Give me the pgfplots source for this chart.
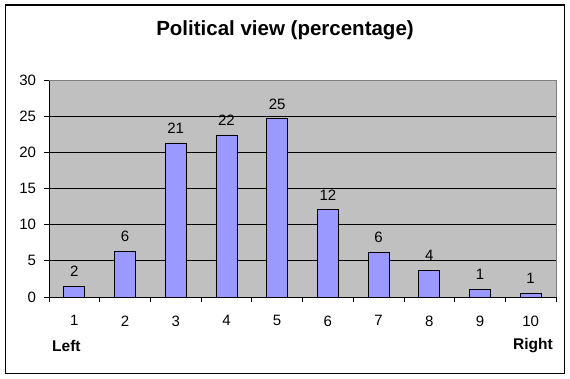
\documentclass[border=0pt]{standalone}
\usepackage{pgfplots}
\pgfplotsset{compat=1.18}
\usepackage{fontspec}
\setmainfont{Liberation Sans}
\definecolor{barfill}{HTML}{9999FF}
\definecolor{plotbg}{HTML}{C0C0C0}
\definecolor{bordergray}{HTML}{808080}
\pgfplotstableread{
x y lab
1 1.5 2
2 6.35 6
3 21.3 21
4 22.4 22
5 24.65 25
6 12.05 12
7 6.2 6
8 3.7 4
9 1.1 1
10 0.55 1
}\datatable
\begin{document}
\begin{tikzpicture}
\begin{axis}[
  name=ax,
  scale only axis,
  width=507pt, height=217pt,
  xmin=0.5, xmax=10.5,
  ymin=0, ymax=30,
  ytick={0,5,...,30},
  xtick={0.5,1.5,...,10.5},
  xticklabels={},
  extra x ticks={1,...,10},
  extra x tick labels={1,2,3,4,5,6,7,8,9,10},
  extra x tick style={major tick length=0pt, grid=none, tick style={draw=none}},
  tick align=outside,
  major tick length=5pt,
  ymajorgrids,
  grid style={black, line width=0.8pt},
  axis line style={black, line width=0.8pt},
  tick style={black, line width=0.8pt},
  xtick pos=bottom, ytick pos=left,
  axis background/.style={fill=plotbg},
  /pgf/number format/assume math mode=true,
  tick label style={font=\fontsize{15}{15}\selectfont},
  xticklabel style={yshift=-15pt},
  yticklabel style={xshift=-4.5pt},
  ybar, bar width=21pt,
  clip=false,
  nodes near coords,
  point meta=explicit symbolic,
  every node near coord/.append style={font=\fontsize{15}{15}\selectfont, inner sep=0pt, yshift=9pt, black},
]
\addplot[fill=barfill, draw=black, line width=0.8pt, bar shift=0pt] table[x=x, y=y, meta=lab] {\datatable};
\draw[bordergray, line width=0.8pt] (rel axis cs:0,1) -- (rel axis cs:1,1) -- (rel axis cs:1,0);
\end{axis}
\node[font=\bfseries\fontsize{20.5}{22}\selectfont] at ([shift={(236pt,267pt)}]ax.south west) {Political view (percentage)};
\node[font=\bfseries\fontsize{15.5}{16}\selectfont, anchor=west, inner sep=0pt] at ([shift={(3pt,-49pt)}]ax.south west) {Left};
\node[font=\bfseries\fontsize{15.5}{16}\selectfont, anchor=east, inner sep=0pt] at ([shift={(504pt,-49pt)}]ax.south west) {Right};
\draw[black, line width=1.5pt] ([shift={(-43.5pt,-76.5pt)}]ax.south west) rectangle ([shift={(515.5pt,292pt)}]ax.south west);
\pgfresetboundingbox
\path[use as bounding box] ([shift={(-49pt,-81pt)}]ax.south west) rectangle ([shift={(521pt,297pt)}]ax.south west);
\end{tikzpicture}
\end{document}
